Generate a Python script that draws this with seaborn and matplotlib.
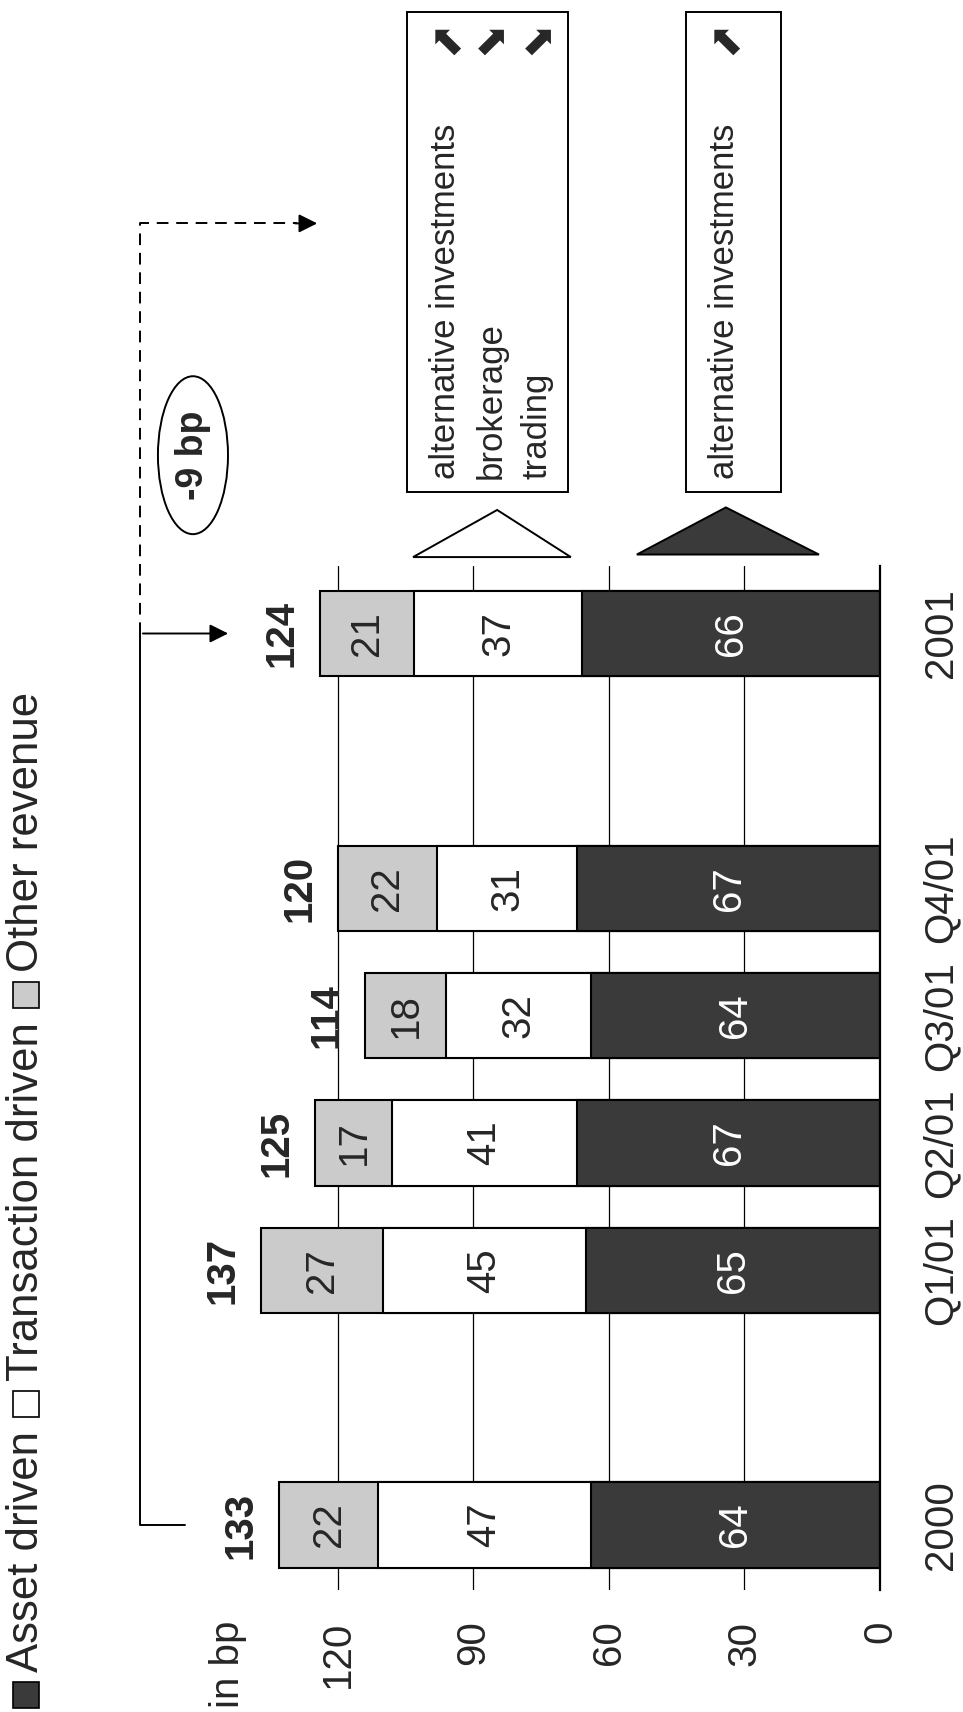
import numpy as np
import pandas as pd
import matplotlib
matplotlib.use('Agg')
import matplotlib.pyplot as plt
from matplotlib.patches import Rectangle, Ellipse, Polygon
import seaborn as sns

# chart data (bp of average assets)
PERIODS = ['2000', 'Q1/01', 'Q2/01', 'Q3/01', 'Q4/01', '2001']
SLOTS = [0, 2, 3, 4, 5, 7]          # empty slot between annual and quarterly bars
ASSET = [64, 65, 67, 64, 67, 66]
TRANSACTION = [47, 45, 41, 32, 31, 37]
OTHER = [22, 27, 17, 18, 22, 21]
TOTAL = [133, 137, 125, 114, 120, 124]
VALUE_TICKS = [0, 30, 60, 90, 120]
LEGEND = ['Asset driven', 'Transaction driven', 'Other revenue']
CHANGE = '-9 bp'
BOX_UP = ['alternative investments', 'brokerage', 'trading']
BOX_UP_ARROWS = ['\u2b08', '\u2b0a', '\u2b0a']
BOX_DOWN = ['alternative investments']
BOX_DOWN_ARROWS = ['\u2b08']

C_ASSET = '#3a3a3a'
C_TRANS = '#ffffff'
C_OTHER = '#cbcbcb'
FS = 29

sns.set_style('white')
plt.rcParams['font.family'] = ['Liberation Sans', 'DejaVu Sans']

W, H = 963, 1712
fig = plt.figure(figsize=(W / 100, H / 100), dpi=100)
ax = fig.add_axes([202 / W, (H - 1590) / H, 678 / W, 1024 / H])

df = pd.DataFrame({'slot': SLOTS, 'asset': ASSET, 'trans': TRANSACTION, 'other': OTHER})
df['lvl2'] = df['asset'] + df['trans']
df['lvl3'] = df['lvl2'] + df['other']

# stacked bars: draw cumulative levels from the top down
for col, color in [('lvl3', C_OTHER), ('lvl2', C_TRANS), ('asset', C_ASSET)]:
    sns.barplot(data=df, x=col, y='slot', orient='h', native_scale=True, width=0.67,
                color=color, saturation=1, edgecolor='black', linewidth=1.5,
                errorbar=None, ax=ax)

ax.set_xlim(150, 0)
ax.set_ylim(-0.51, 7.53)
ax.set_xlabel('')
ax.set_ylabel('')

ax.set_xticks(VALUE_TICKS)
ax.set_xticklabels(VALUE_TICKS, rotation=90)
ax.tick_params(axis='x', length=0, pad=22, labelsize=FS)
ax.yaxis.tick_right()
ax.set_yticks(SLOTS)
ax.set_yticklabels(PERIODS, rotation=90, va='center')
ax.tick_params(axis='y', length=0, pad=30, labelsize=FS)
ax.grid(axis='x', color='black', linewidth=0.9)
ax.grid(axis='y', visible=False)
ax.set_axisbelow(True)
for s in ['left', 'top', 'bottom']:
    ax.spines[s].set_visible(False)
ax.spines['right'].set_color('black')
ax.spines['right'].set_linewidth(1.6)

ax.text(144.2, -0.746, 'in bp', rotation=90, ha='center', va='top', fontsize=FS, clip_on=False)

# segment and total labels
for i, s in enumerate(SLOTS):
    a, t, o = ASSET[i], TRANSACTION[i], OTHER[i]
    ax.text(a / 2, s, str(a), rotation=90, ha='center', va='center', fontsize=FS, color='white')
    ax.text(a + t / 2, s, str(t), rotation=90, ha='center', va='center', fontsize=FS)
    ax.text(a + t + o / 2, s, str(o), rotation=90, ha='center', va='center', fontsize=FS)
    ax.text(TOTAL[i] + 8.5, s, str(TOTAL[i]), rotation=90, ha='center', va='center',
            fontsize=FS, fontweight='bold', clip_on=False)

# bracket 2000 -> 2001 and onwards
xv = 163.7
ax.plot([153.8, xv, xv], [0, 0, 7], color='black', lw=1.4, clip_on=False)
ax.annotate('', xy=(143.6, 7), xytext=(xv, 7), annotation_clip=False,
            arrowprops=dict(arrowstyle='-|>', color='black', lw=1.4, mutation_scale=28))
ax.plot([xv, xv, 129], [7, 10.22, 10.22], color='black', lw=1.4, ls=(0, (6, 4)), clip_on=False)
ax.annotate('', xy=(123.9, 10.22), xytext=(130, 10.22), annotation_clip=False,
            arrowprops=dict(arrowstyle='-|>', color='black', lw=1.4, mutation_scale=28))

ax.add_patch(Ellipse((152, 8.40), 15.5, 1.24, fill=False, ec='black', lw=1.4, clip_on=False))
ax.text(152, 8.40, CHANGE, rotation=90, ha='center', va='center', fontsize=27,
        fontweight='bold', clip_on=False)

# up / down triangles
ax.add_patch(Polygon([(103.3, 7.60), (84.7, 7.97), (68.4, 7.60)], closed=True,
                     fc=C_TRANS, ec='black', lw=1.4, clip_on=False))
ax.add_patch(Polygon([(53.8, 7.62), (34.1, 7.99), (13.5, 7.62)], closed=True,
                     fc=C_ASSET, ec='black', lw=1.4, clip_on=False))

# driver boxes
ax.add_patch(Rectangle((69.0, 8.11), 35.6, 3.77, fill=False, ec='black', lw=1.4, clip_on=False))
ax.add_patch(Rectangle((21.9, 8.11), 21.0, 3.77, fill=False, ec='black', lw=1.4, clip_on=False))
for xs, labels, arrows in [([96.2, 86.1, 75.9], BOX_UP, BOX_UP_ARROWS),
                           ([34.5], BOX_DOWN, BOX_DOWN_ARROWS)]:
    for x, lab, arr in zip(xs, labels, arrows):
        ax.text(x, 8.21, lab, rotation=90, ha='center', va='bottom', fontsize=25, clip_on=False)
        ax.text(x, 11.68, arr, rotation=90, ha='center', va='center', fontsize=30,
                family='DejaVu Sans', clip_on=False)

# legend, laid out bottom to top along the left edge
renderer = fig.canvas.get_renderer()
cursor = 1708
for lab, color in zip(LEGEND, [C_ASSET, C_TRANS, C_OTHER]):
    fig.add_artist(Rectangle((13 / W, 1 - cursor / H), 26 / W, 26 / H, transform=fig.transFigure,
                             fc=color, ec='black', lw=1.2))
    cursor -= 26 + 10
    t = fig.text(27 / W, 1 - cursor / H, lab, rotation=90, ha='center', va='bottom', fontsize=31.5)
    cursor -= t.get_window_extent(renderer).height + 14

fig.savefig('out.png', dpi=100)
